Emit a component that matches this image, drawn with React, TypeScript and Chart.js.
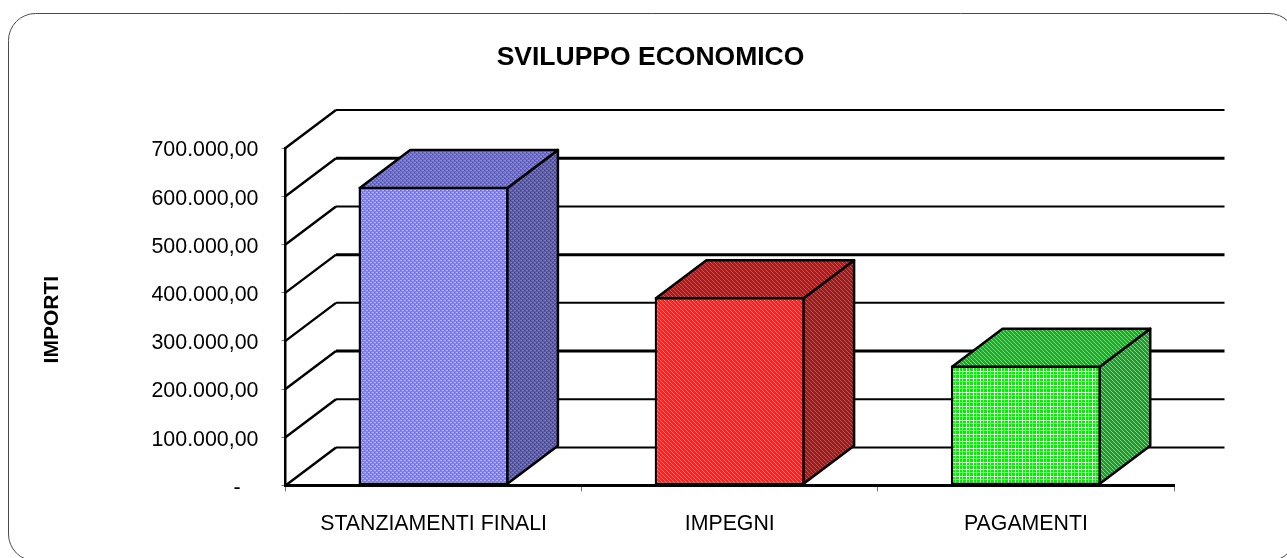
import React, { useEffect, useRef } from "react";
import { Chart, registerables } from "chart.js";

Chart.register(...registerables);

const chartTitle = "SVILUPPO ECONOMICO";
const yAxisTitle = "IMPORTI";
const categories = ["STANZIAMENTI FINALI", "IMPEGNI", "PAGAMENTI"];
const importi = [619800, 391000, 249000];
const backLineWidths = [2, 2, 3, 2, 3, 2, 3, 2];

const FONT = "'Liberation Sans', Arial, sans-serif";
const DEPTH_X = 50.5;
const DEPTH_Y = 38;
const BAR_LINE = 2.5;

function tile(w: number, h: number, base: string, paint: (c: CanvasRenderingContext2D) => void) {
  const off = document.createElement("canvas");
  off.width = w;
  off.height = h;
  const c = off.getContext("2d")!;
  c.fillStyle = base;
  c.fillRect(0, 0, w, h);
  paint(c);
  return c.createPattern(off, "repeat")!;
}

function checks(w: number, h: number, base: string, light: string, dark?: string) {
  return tile(w, h, base, (c) => {
    c.fillStyle = light;
    c.fillRect(0, 0, 2, 1);
    c.fillRect(Math.floor(w / 2), Math.floor(h / 2), 2, 1);
    if (dark) {
      c.fillStyle = dark;
      c.fillRect(Math.floor(w / 2), 0, 1, 1);
      c.fillRect(0, Math.floor(h / 2), 1, 1);
    }
  });
}

function diagonal(size: number, base: string, light: string) {
  return tile(size, size, base, (c) => {
    c.fillStyle = light;
    for (let i = 0; i < size; i++) c.fillRect(i, i, 1, 1);
  });
}

function plaid(size: number, base: string, mid: string, light: string) {
  return tile(size, size, base, (c) => {
    c.fillStyle = mid;
    c.fillRect(3, 0, 1, size);
    c.fillRect(0, 3, size, 1);
    c.fillStyle = light;
    c.fillRect(0, 0, 1, size);
    c.fillRect(0, 0, size, 1);
  });
}

function makeFaces() {
  return [
    {
      front: checks(4, 4, "#8080f4", "#b4b4ff", "#7070e8"),
      top: checks(4, 4, "#6c6cc6", "#8a8ae0", "#54549e"),
      side: checks(4, 4, "#5a5aa4", "#7c7cbc", "#42428c"),
    },
    {
      front: diagonal(4, "#ff2020", "#ff7070"),
      top: diagonal(4, "#a81e1e", "#d05050"),
      side: diagonal(4, "#962020", "#c05050"),
    },
    {
      front: plaid(7, "#00f000", "#66ff66", "#ffffff"),
      top: diagonal(4, "#1fa82c", "#7cd87c"),
      side: diagonal(4, "#209a2c", "#98c898"),
    },
  ];
}

const formatImporto = (v: number) =>
  v === 0
    ? "-   "
    : v.toLocaleString("it-IT", { minimumFractionDigits: 2, maximumFractionDigits: 2 });

const framePlugin = {
  id: "frame",
  beforeDraw(chart: any) {
    const { ctx } = chart;
    ctx.save();
    ctx.strokeStyle = "#4a4a4a";
    ctx.lineWidth = 1;
    ctx.beginPath();
    ctx.roundRect(8.5, 13.5, 1287.5, 547.5, 27);
    ctx.stroke();
    ctx.restore();
  },
};

const titleShiftPlugin = {
  id: "titleShift",
  afterLayout(chart: any) {
    chart.titleBlock.left = 14;
    chart.titleBlock.right = chart.width;
  },
};

const wallPlugin = {
  id: "wall",
  beforeDatasetsDraw(chart: any) {
    const { ctx, scales } = chart;
    const y = scales.y;
    ctx.save();
    ctx.strokeStyle = "#000";
    y.ticks.forEach((t: any, i: number) => {
      const py = y.getPixelForValue(t.value);
      const left = chart.chartArea.left;
      const right = chart.chartArea.right;
      ctx.lineWidth = 2.4;
      ctx.beginPath();
      ctx.moveTo(left, py);
      ctx.lineTo(left + DEPTH_X, py - DEPTH_Y);
      ctx.stroke();
      ctx.lineWidth = backLineWidths[i] ?? 2;
      ctx.beginPath();
      ctx.moveTo(left + DEPTH_X, py - DEPTH_Y);
      ctx.lineTo(right + DEPTH_X, py - DEPTH_Y);
      ctx.stroke();
    });
    ctx.restore();
  },
};

const barDepthPlugin = (faces: ReturnType<typeof makeFaces>) => ({
  id: "barDepth",
  afterDatasetsDraw(chart: any) {
    const { ctx } = chart;
    const meta = chart.getDatasetMeta(0);
    const inset = BAR_LINE / 2;
    ctx.save();
    ctx.strokeStyle = "#000";
    ctx.lineWidth = BAR_LINE;
    ctx.lineJoin = "round";
    meta.data.forEach((bar: any, i: number) => {
      const l = bar.x - bar.width / 2 + inset;
      const r = bar.x + bar.width / 2 - inset;
      const t = bar.y + inset;
      const b = bar.base - inset;
      ctx.fillStyle = faces[i].side;
      ctx.beginPath();
      ctx.moveTo(r, t);
      ctx.lineTo(r + DEPTH_X, t - DEPTH_Y);
      ctx.lineTo(r + DEPTH_X, b - DEPTH_Y);
      ctx.lineTo(r, b);
      ctx.closePath();
      ctx.fill();
      ctx.stroke();
      ctx.fillStyle = faces[i].top;
      ctx.beginPath();
      ctx.moveTo(l, t);
      ctx.lineTo(l + DEPTH_X, t - DEPTH_Y);
      ctx.lineTo(r + DEPTH_X, t - DEPTH_Y);
      ctx.lineTo(r, t);
      ctx.closePath();
      ctx.fill();
      ctx.stroke();
    });
    ctx.restore();
  },
});

export default function App() {
  const ref = useRef<HTMLCanvasElement | null>(null);

  useEffect(() => {
    if (!ref.current) return;
    const faces = makeFaces();
    const chart = new Chart(ref.current, {
      type: "bar",
      data: {
        labels: categories,
        datasets: [
          {
            label: yAxisTitle,
            data: importi,
            backgroundColor: faces.map((f) => f.front) as any,
            borderColor: "#000",
            borderWidth: BAR_LINE,
            borderSkipped: false,
            barPercentage: 0.507,
            categoryPercentage: 1,
          },
        ],
      },
      options: {
        responsive: false,
        animation: false,
        layout: { autoPadding: false, padding: { left: 0, right: 113, top: 0, bottom: 0 } },
        plugins: {
          legend: { display: false },
          tooltip: { enabled: false },
          title: {
            display: true,
            text: chartTitle,
            color: "#000",
            font: { family: FONT, size: 26.5, weight: "bold", lineHeight: 1.2 },
            padding: { top: 41.5, bottom: 74.7 },
          },
        },
        scales: {
          x: {
            afterFit: (s: any) => {
              s.height = 72.5;
            },
            border: { color: "#000", width: 3 },
            grid: {
              drawOnChartArea: false,
              drawTicks: true,
              tickLength: 6,
              tickColor: "#777",
              tickWidth: 1,
            },
            ticks: {
              color: "#000",
              padding: 20,
              maxRotation: 0,
              font: { family: FONT, size: 21.3 },
            },
          },
          y: {
            min: 0,
            max: 700000,
            afterFit: (s: any) => {
              s.width = 285.5;
            },
            title: {
              display: true,
              text: `${yAxisTitle} `,
              color: "#000",
              font: { family: FONT, size: 21, weight: "bold", lineHeight: 1.2 },
              padding: { top: 40, bottom: 0 },
            },
            border: { color: "#000", width: 2.5 },
            grid: {
              drawOnChartArea: false,
              tickLength: 4,
              tickColor: "#777",
              tickWidth: 1,
            },
            ticks: {
              stepSize: 100000,
              color: "#000",
              padding: 23,
              labelOffset: 2.5,
              font: { family: FONT, size: 21.4 },
              callback: (v: any) => formatImporto(Number(v)),
            },
          },
        },
      },
      plugins: [framePlugin, titleShiftPlugin, wallPlugin, barDepthPlugin(faces)],
    } as any);
    return () => chart.destroy();
  }, []);

  return (
    <div style={{ position: "fixed", left: 0, top: 0, width: 1287, height: 558 }}>
      <canvas ref={ref} width={1287} height={558} style={{ display: "block" }} />
    </div>
  );
}
